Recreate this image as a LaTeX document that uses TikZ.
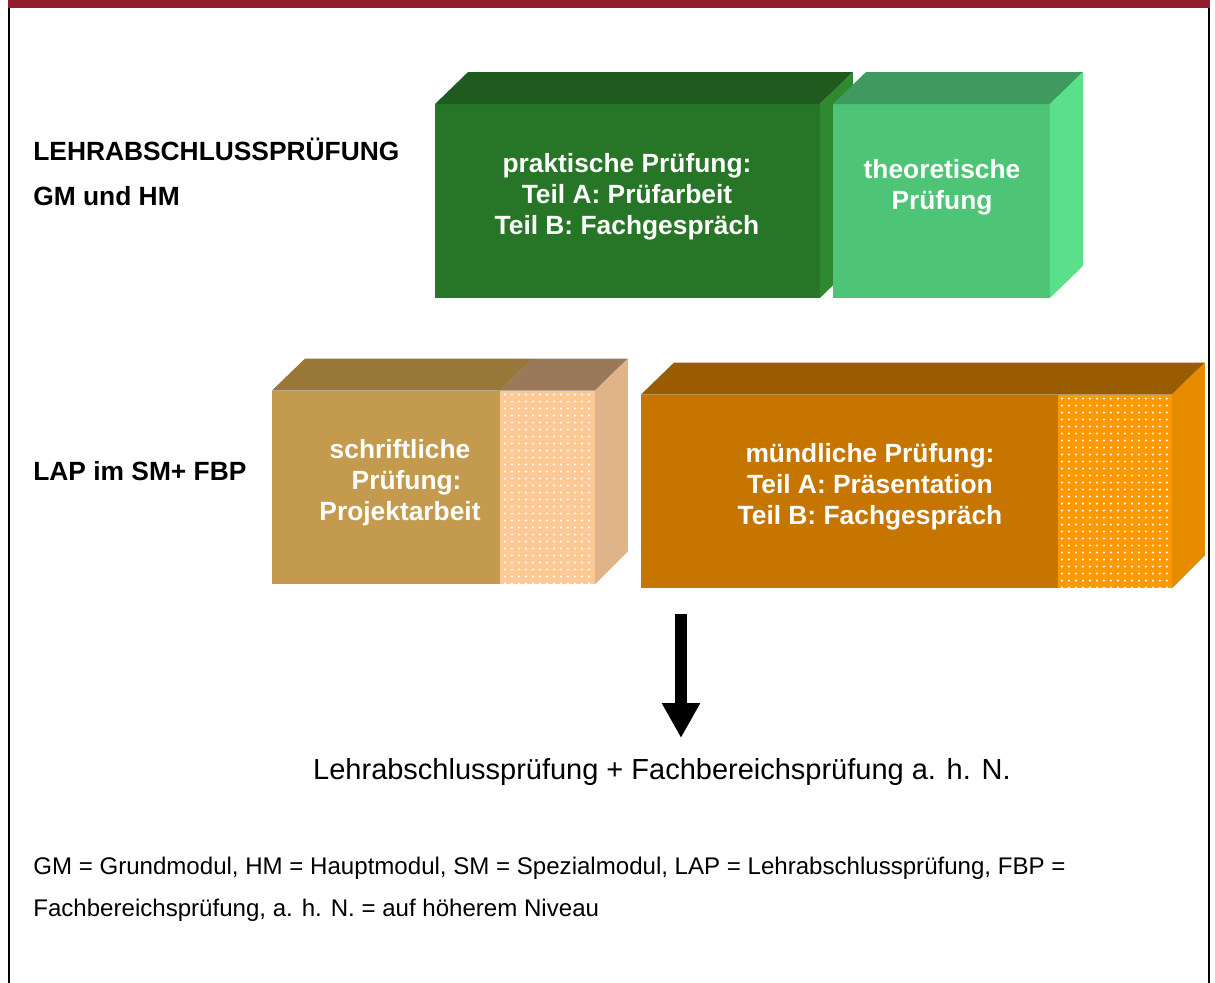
\documentclass[tikz,border=0pt]{standalone}
\usepackage{fontspec}
\setmainfont{Liberation Sans}
\usepackage{tikz}
\usetikzlibrary{calc,arrows.meta}
\usetikzlibrary{positioning}

\definecolor{barRed}{HTML}{921E30}
\definecolor{ppFront}{HTML}{277627}
\definecolor{ppTop}{HTML}{1F5B1F}
\definecolor{ppSide}{HTML}{2F8A2F}
\definecolor{tpFront}{HTML}{4EC476}
\definecolor{tpTop}{HTML}{3E9A5E}
\definecolor{tpSide}{HTML}{5ADF8A}
\definecolor{spFront}{HTML}{C49A4E}
\definecolor{spTop}{HTML}{977838}
\definecolor{sdTop}{HTML}{9A785A}
\definecolor{sdFront}{HTML}{FFC996}
\definecolor{spSide}{HTML}{E0B488}
\definecolor{mpFront}{HTML}{C67500}
\definecolor{mpTop}{HTML}{9A5C00}
\definecolor{mdFront}{HTML}{FF9900}
\definecolor{mpSide}{HTML}{E68A00}

\tikzset{
  face/.style={rectangle, inner sep=0pt, outer sep=0pt, minimum height=3.88cm},
  boxtext/.style={text=white, font=\fontsize{15}{17.6}\selectfont\bfseries, align=center},
  lbl/.style={anchor=west, inner sep=0pt, font=\fontsize{15}{18}\selectfont\bfseries},
  note/.style={anchor=west, inner sep=0pt, font=\fontsize{13.7}{16}\selectfont},
  bigarrow/.style={line width=0.24cm, -{Triangle[length=0.7cm, width=0.72cm]}}
}

\begin{document}
\begin{tikzpicture}[x=0.02cm, y=-0.02cm]
    \useasboundingbox (0,0) rectangle (1215,983);
    % frame
    \fill[barRed] (8,0) rectangle (1210,8);
    \draw[line width=0.04cm] (9,8) -- (9,983) (1209,8) -- (1209,983);

    % first row
    \node[face, fill=ppFront, minimum width=7.7cm] (pp) at (627.5,201) {};
    \fill[ppTop] (pp.north west) -- ++(33,-32) -- ++(385,0) -- (pp.north east) -- cycle;
    \fill[ppSide] (pp.north east) -- ++(33,-32) -- ++(0,194) -- (pp.south east) -- cycle;
    \node[face, fill=tpFront, minimum width=4.34cm] (tp) at (941.5,201) {};
    \fill[tpTop] (tp.north west) -- ++(33,-32) -- ++(217,0) -- (tp.north east) -- cycle;
    \fill[tpSide] (tp.north east) -- ++(33,-32) -- ++(0,194) -- (tp.south east) -- cycle;
    \node[boxtext] (pptext) at (627,197) {praktische Prüfung:\\Teil A: Prüfarbeit\\Teil B: Fachgespräch};
    \node[boxtext] (tptext) at (942,187) {theoretische\\Prüfung};

    % second row
    \node[face, fill=spFront, minimum width=4.56cm] (sp) at (386,487.5) {};
    \node[face, fill=sdFront, minimum width=1.9cm, right=0pt of sp] (sd) {};
    \fill[spTop] (sp.north west) -- ++(33,-32) -- ++(228,0) -- (sp.north east) -- cycle;
    \fill[sdTop] (sd.north west) -- ++(33,-32) -- ++(95,0) -- (sd.north east) -- cycle;
    \fill[spSide] (sd.north east) -- ++(33,-32) -- ++(0,193) -- (sd.south east) -- cycle;
    \foreach \i in {0,...,12}
      \foreach \j in {0,...,27}
        \fill[white] ($(sd.north west)+(5+7*\i,4+7*\j)$) circle (0.7pt);
    \node[boxtext] (sptext) at (400,483) {schriftliche\\\hspace*{0.5em}Prüfung:\\Projektarbeit};

    \node[face, fill=mpFront, minimum width=8.34cm] (mp) at (849.5,491.5) {};
    \node[face, fill=mdFront, minimum width=2.28cm, right=0pt of mp] (md) {};
    \fill[mpTop] (mp.north west) -- ++(33,-32) -- ++(531,0) -- (md.north east) -- cycle;
    \fill[mpSide] (md.north east) -- ++(33,-32) -- ++(0,193) -- (md.south east) -- cycle;
    \foreach \i in {0,...,15}
      \foreach \j in {0,...,27}
        \fill[white] ($(md.north west)+(4+7*\i,4+7*\j)$) circle (0.7pt);
    \node[boxtext] (mptext) at (870,487) {mündliche Prüfung:\\Teil A: Präsentation\\Teil B: Fachgespräch};

    % row labels
    \node[lbl] (lehr) at (33,149) {LEHRABSCHLUSSPRÜFUNG};
    \node[lbl, below=0.94cm of lehr.west, anchor=west] (gmhm) {GM und HM};
    \node[lbl] (lap) at (33,471) {LAP im SM+ FBP};

    % result
    \coordinate (arrowtop) at (681,614);
    \coordinate (arrowtip) at (681,738);
    \draw[bigarrow] (arrowtop) -- (arrowtip);
    \node[font=\fontsize{16.5}{20}\selectfont] (result) at (662,772) {Lehrabschlussprüfung + Fachbereichsprüfung a. h. N.};

    \node[note] (note1) at (33,868) {GM = Grundmodul, HM = Hauptmodul, SM = Spezialmodul, LAP = Lehrabschlussprüfung, FBP =};
    \node[note, below=0.84cm of note1.west, anchor=west] (note2) {Fachbereichsprüfung, a. h. N. = auf höherem Niveau};
\end{tikzpicture}
\end{document}
